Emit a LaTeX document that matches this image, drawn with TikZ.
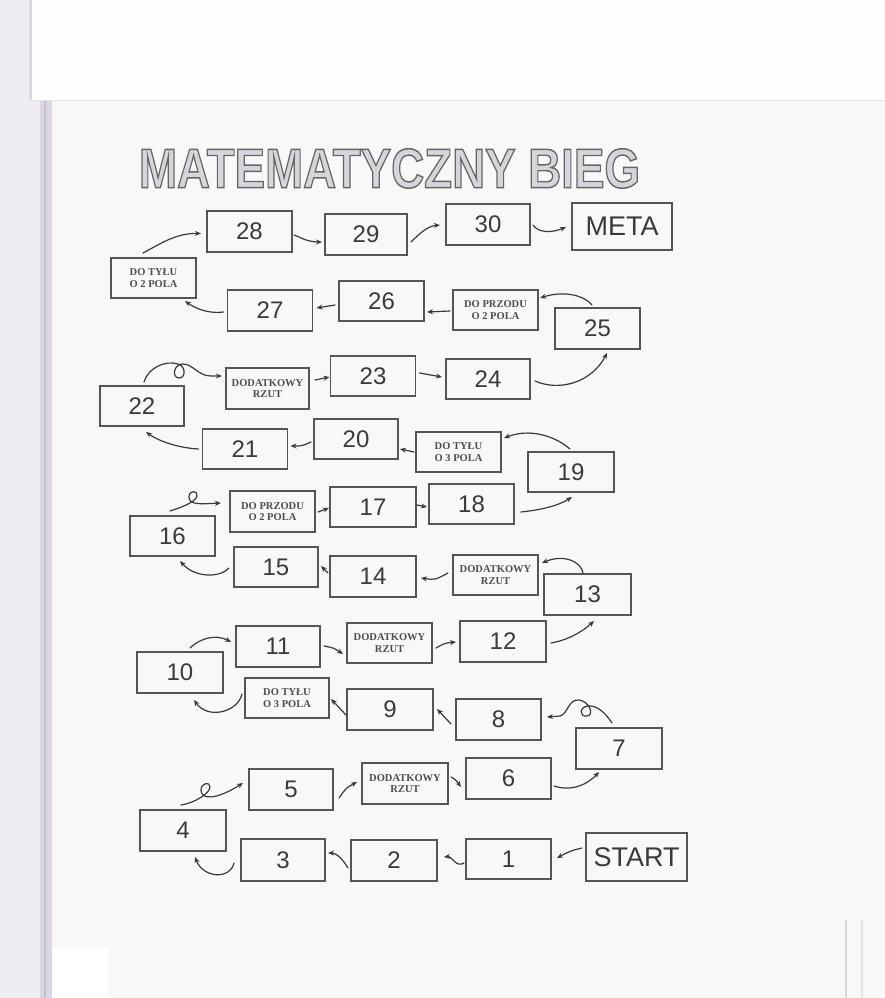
\documentclass[tikz,border=0pt]{standalone}
\usepackage{graphicx}
\usepackage{fontspec}
\setmainfont{Liberation Serif}
\newfontfamily\handf{Liberation Sans}
\newfontfamily\labf{Liberation Serif}
\newfontface\titfb[FakeBold=2.6]{Liberation Sans Bold}
\usetikzlibrary{arrows.meta,calc}
\definecolor{ink}{HTML}{3A3A3A}
\definecolor{boxc}{HTML}{555555}
\definecolor{labc}{HTML}{4E4E4E}
\definecolor{page}{HTML}{F8F8F8}
\definecolor{strip}{HTML}{EFEDF1}
\definecolor{band}{HTML}{DBD7E0}
\definecolor{bandline}{HTML}{C6C0CE}
\definecolor{titfill}{HTML}{D6D6DA}
\newcommand\TitleTxt{\resizebox{501pt}{39pt}{\color{titfill}\special{pdf:code 0.40 0.40 0.40 RG}\titfb\fontsize{56}{56}\selectfont MATEMATYCZNY BIEG}}
\tikzset{
  box/.style={draw=boxc, line width=1.1pt, inner sep=0pt, outer sep=0pt,
    minimum width=85pt, minimum height=41pt},
  num/.style={box, font=\handf\fontsize{24}{24}\selectfont, text=ink},
  bigword/.style={box, font=\handf\fontsize{27}{27}\selectfont, text=ink,
    minimum width=101pt, minimum height=47pt},
  lab/.style={box, font=\labf\bfseries\fontsize{10.5}{11.5}\selectfont, text=labc, align=center},
  titlebase/.style={inner sep=0pt, outer sep=0pt},
  arr/.style={draw=ink, line width=1.2pt, line cap=round, -{Stealth[length=6pt,width=5pt]}}
}
\begin{document}
\begin{tikzpicture}[x=1pt,y=-1pt]
\useasboundingbox (0,0) rectangle (885,998);
% scanned page background
\fill[page] (0,0) rectangle (885,998);
\fill[strip] (0,0) rectangle (40,998);
\fill[band] (40,100) rectangle (52,998);
\draw[bandline, line width=2pt] (45,100) -- (45,998);
\fill[white!70!page] (30,0) rectangle (885,100);
\draw[band, line width=3pt] (30,0) -- (30,100);
\draw[black!10, line width=1pt] (30,100) -- (885,100);
\fill[white] (53,948) rectangle (108,998);
\draw[black!15, line width=2pt] (846,920) -- (846,998);
\draw[black!10, line width=2pt] (862,920) -- (862,998);

% title
\node[titlebase] (title) at (389.5,168.5) {\TitleTxt};

% boxes
\node[num] (n28) at (249.5,231.5) {28};
\node[num, minimum width=82pt] (n29) at (366,234.5) {29};
\node[num, minimum width=84pt] (n30) at (488,224.5) {30};
\node[bigword, minimum width=100pt] (meta) at (622,226.5) {META};
\node[lab, minimum height=40pt] (dta) at (153.5,278) {DO TYŁU\\O 2 POLA};
\node[num] (n27) at (270,310.5) {27};
\node[num, minimum height=40pt] (n26) at (381.5,301) {26};
\node[lab, minimum height=40pt] (dpb) at (495.5,310) {DO PRZODU\\O 2 POLA};
\node[num] (n25) at (597.5,328.5) {25};
\node[num, minimum width=84pt, minimum height=40pt] (n22) at (142,406) {22};
\node[lab, minimum width=83pt] (drc) at (267.5,388.5) {DODATKOWY\\RZUT};
\node[num, minimum height=40pt] (n23) at (373,376) {23};
\node[num, minimum width=84pt, minimum height=40pt] (n24) at (488,379) {24};
\node[num, minimum height=40pt] (n21) at (245,449) {21};
\node[num, minimum width=84pt, minimum height=40pt] (n20) at (356,439) {20};
\node[lab, minimum height=40pt] (dtd) at (458.5,452) {DO TYŁU\\O 3 POLA};
\node[num, minimum width=86pt, minimum height=40pt] (n19) at (571,472) {19};
\node[num, minimum height=40pt] (n16) at (172.5,536) {16};
\node[lab] (dpe) at (272.5,511.5) {DO PRZODU\\O 2 POLA};
\node[num, minimum width=86pt, minimum height=40pt] (n17) at (373,507) {17};
\node[num, minimum height=40pt] (n18) at (471.5,504) {18};
\node[num, minimum width=84pt, minimum height=40pt] (n15) at (276,567) {15};
\node[num, minimum width=86pt] (n14) at (373,576.5) {14};
\node[lab, minimum height=40pt] (drf) at (495.5,575) {DODATKOWY\\RZUT};
\node[num, minimum width=87pt] (n13) at (587.5,594.5) {13};
\node[num, minimum width=84pt] (n11) at (278,646.5) {11};
\node[lab, minimum height=40pt] (drg) at (389.5,643) {DODATKOWY\\RZUT};
\node[num, minimum width=86pt] (n12) at (503,641.5) {12};
\node[num, minimum width=86pt] (n10) at (180,672.5) {10};
\node[lab, minimum width=84pt, minimum height=40pt] (dth) at (287,698) {DO TYŁU\\O 3 POLA};
\node[num, minimum width=86pt] (n9) at (390,709.5) {9};
\node[num] (n8) at (498.5,719.5) {8};
\node[num, minimum width=86pt] (n7) at (619,748.5) {7};
\node[num, minimum width=84pt] (n5) at (291,789.5) {5};
\node[lab, minimum width=86pt] (dri) at (405,783.5) {DODATKOWY\\RZUT};
\node[num] (n6) at (508.5,778.5) {6};
\node[num, minimum width=86pt] (n4) at (183,830.5) {4};
\node[num, minimum width=84pt, minimum height=42pt] (n3) at (283,860) {3};
\node[num, minimum width=86pt] (n2) at (394,860.5) {2};
\node[num, minimum height=40pt] (n1) at (508.5,859) {1};
\node[bigword, minimum height=48pt] (start) at (636.5,857) {START};

% connectors
\draw[arr] ([shift={(-4,-9)}]start.west) .. controls (570,851) .. ([shift={(6,-1)}]n1.east);
\draw[arr] ([shift={(-2,4)}]n1.west) .. controls (456,868) and (452,856) .. ([shift={(7,-3.5)}]n2.east);
\draw[arr] ([shift={(-3,7.5)}]n2.west) .. controls (342,858) and (336,853) .. ([shift={(3,-7)}]n3.east);
\draw[arr] ([shift={(-7,3)}]n3.west) .. controls (230,880) and (203,878) .. ([shift={(12,6)}]n4.south);
\draw[arr] ([shift={(-2,-5)}]n4.north) .. controls (195,803) and (210,793) .. (210,787)
   .. controls (210,781) and (201,783) .. (201,790)
   .. controls (201,800) and (216,800) .. ([shift={(-6,-6.5)}]n5.west);
\draw[arr] ([shift={(6,8.5)}]n5.east) .. controls (346,788) .. ([shift={(-5,-1.5)}]dri.west);
\draw[arr] ([shift={(3,-6.5)}]dri.east) .. controls (456,780) .. ([shift={(-5,8.5)}]n6.west);
\draw[arr] ([shift={(3,7.5)}]n6.east) .. controls (572,792) and (588,784) .. ([shift={(-20,3)}]n7.south);
\draw[arr] ([shift={(-7,-5)}]n7.north) .. controls (605,712) and (596,705) .. (588,706)
   .. controls (579,707) and (579,717) .. (587,716)
   .. controls (595,715) and (589,701) .. (579,700)
   .. controls (568,699) and (568,714) .. (560,716) -- ([shift={(6,-2.5)}]n8.east);
\draw[arr] ([shift={(-5,4.5)}]n8.west) -- ([shift={(4,-0.5)}]n9.east);
\draw[arr] ([shift={(-1,5.5)}]n9.west) -- ([shift={(2,1)}]dth.east);
\draw[arr] ([shift={(-3,-4)}]dth.west) .. controls (238,712) and (208,720) .. ([shift={(14,7)}]n10.south);
\draw[arr] ([shift={(10,-4)}]n10.north) .. controls (198,640) and (214,633) .. ([shift={(-5,-4.5)}]n11.west);
\draw[arr] ([shift={(4,-0.5)}]n11.east) .. controls (334,648) .. ([shift={(-4,11)}]drg.west);
\draw[arr] ([shift={(4,5)}]drg.east) .. controls (445,643) .. ([shift={(-4,0.5)}]n12.west);
\draw[arr] ([shift={(5,1.5)}]n12.east) .. controls (568,640) and (582,632) .. ([shift={(6.5,6)}]n13.south);
\draw[arr] ([shift={(-4.5,-1)}]n13.north) .. controls (581,561) and (563,554) .. ([shift={(4,-12)}]drf.east);
\draw[arr] ([shift={(-5,-2)}]drf.west) .. controls (435,580) .. ([shift={(5,1.5)}]n14.east);
\draw[arr] ([shift={(-2,-3.5)}]n14.west) -- ([shift={(3,-1)}]n15.east);
\draw[arr] ([shift={(-5,1)}]n15.west) .. controls (220,578) and (195,578) .. ([shift={(7.5,5)}]n16.south);
\draw[arr] ([shift={(-2.5,-5)}]n16.north) .. controls (180,508) and (196,502) .. (197,496)
   .. controls (198,490) and (189,490) .. (189,497)
   .. controls (189,505) and (200,504) .. ([shift={(-9,-8.5)}]dpe.west);
\draw[arr] ([shift={(3,0.5)}]dpe.east) -- ([shift={(-1,1)}]n17.west);
\draw[arr] ([shift={(1,-2)}]n17.east) -- ([shift={(-2,3)}]n18.west);
\draw[arr] ([shift={(7,8)}]n18.east) .. controls (540,510) and (558,506) .. ([shift={(1,5)}]n19.south);
\draw[arr] ([shift={(-1,-3)}]n19.north) .. controls (555,436) and (530,428) .. ([shift={(3,-14)}]dtd.east);
\draw[arr] ([shift={(-2,0)}]dtd.west) -- ([shift={(2,10)}]n20.east);
\draw[arr] ([shift={(-3,3)}]n20.west) .. controls (302,446) .. ([shift={(3,-3)}]n21.east);
\draw[arr] ([shift={(-4,0)}]n21.west) .. controls (180,448) and (160,442) .. ([shift={(4,6)}]n22.south);
\draw[arr] ([shift={(2,-4)}]n22.north) .. controls (148,368) and (165,360) .. (178,364)
   .. controls (186,366) and (186,378) .. (179,378)
   .. controls (172,378) and (173,364) .. (183,364)
   .. controls (193,364) and (198,376) .. (211,376) -- ([shift={(-4,-12.5)}]drc.west);
\draw[arr] ([shift={(6,-8.5)}]drc.east) -- ([shift={(-1,1)}]n23.west);
\draw[arr] ([shift={(4,-3)}]n23.east) -- ([shift={(-4,-2)}]n24.west);
\draw[arr] ([shift={(5,2)}]n24.east) .. controls (560,392) and (592,382) .. ([shift={(9.5,4)}]n25.south);
\draw[arr] ([shift={(-5.5,-3)}]n25.north) .. controls (585,296) and (565,290) .. ([shift={(2,-12)}]dpb.east);
\draw[arr] ([shift={(-3,1)}]dpb.west) -- ([shift={(3,11)}]n26.east);
\draw[arr] ([shift={(-4,4)}]n26.west) -- ([shift={(4,-2.5)}]n27.east);
\draw[arr] ([shift={(-4,1.5)}]n27.west) .. controls (210,314) and (196,309) .. ([shift={(-11,3)}]dta.south east);
\draw[arr] ([shift={(-10.5,-5)}]dta.north) .. controls (160,244) and (176,233) .. ([shift={(-6,2)}]n28.west);
\draw[arr] ([shift={(2,3.5)}]n28.east) .. controls (300,237) and (307,242) .. ([shift={(-3,7.5)}]n29.west);
\draw[arr] ([shift={(4,7.5)}]n29.east) .. controls (420,233) and (428,226) .. ([shift={(-6,0.5)}]n30.west);
\draw[arr] ([shift={(3,0.5)}]n30.east) .. controls (538,233) and (552,233) .. ([shift={(-6,0.5)}]meta.west);
\end{tikzpicture}
\end{document}
